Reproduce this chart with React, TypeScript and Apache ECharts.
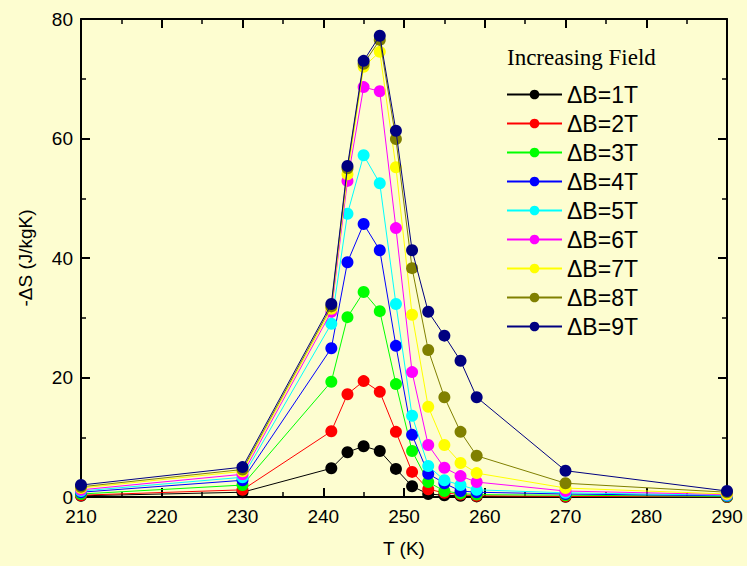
import React, { useEffect, useRef } from "react";
import * as echarts from "echarts";

const temps = [210, 230, 241, 243, 245, 247, 249, 251, 253, 255, 257, 259, 270, 290];
const fieldNames = ["ΔB=1T", "ΔB=2T", "ΔB=3T", "ΔB=4T", "ΔB=5T", "ΔB=6T", "ΔB=7T", "ΔB=8T", "ΔB=9T"];
const colors = ["#000000", "#ff0000", "#00ff00", "#0000ff", "#00ffff", "#ff00ff", "#ffff00", "#808000", "#000080"];
const b1 = [0.2, 0.8, 4.8, 7.5, 8.5, 7.7, 4.7, 1.8, 0.5, 0.3, 0.2, 0.1, 0.05, 0.0];
const b2 = [0.3, 1.2, 11.0, 17.2, 19.4, 17.6, 10.9, 4.2, 1.3, 0.7, 0.4, 0.2, 0.1, 0.05];
const b3 = [0.5, 2.0, 19.3, 30.1, 34.3, 31.1, 18.9, 7.7, 2.5, 1.0, 0.6, 0.4, 0.3, 0.1];
const b4 = [0.8, 2.8, 24.9, 39.3, 45.7, 41.3, 25.3, 10.4, 3.9, 2.3, 1.0, 0.8, 0.5, 0.2];
const b5 = [1.0, 3.3, 29.0, 47.4, 57.2, 52.5, 32.3, 13.6, 5.2, 2.8, 2.0, 1.2, 0.7, 0.3];
const b6 = [1.2, 3.8, 31.0, 52.9, 68.6, 67.9, 45.0, 20.9, 8.7, 4.9, 3.5, 2.5, 1.0, 0.4];
const b7 = [1.5, 4.3, 31.5, 54.0, 72.0, 74.5, 55.2, 30.5, 15.1, 8.7, 5.7, 4.0, 1.5, 0.5];
const b8 = [1.7, 4.6, 31.9, 55.0, 72.5, 76.5, 59.9, 38.3, 24.6, 16.7, 10.9, 6.9, 2.3, 0.8];
const b9 = [2.0, 5.0, 32.3, 55.4, 73.0, 77.2, 61.3, 41.3, 31.0, 27.0, 22.8, 16.7, 4.4, 1.0];
const allSeries = [b1, b2, b3, b4, b5, b6, b7, b8, b9];
const xTicks = [210, 220, 230, 240, 250, 260, 270, 280, 290];
const yTicks = [0, 20, 40, 60, 80];

export default function App() {
  const ref = useRef<HTMLDivElement>(null);
  useEffect(() => {
    if (!ref.current) return;
    const chart = echarts.init(ref.current, null, { renderer: "svg" });
    const font = "'Liberation Sans', Arial, sans-serif";
    const axisCommon = {
      type: "value" as const,
      axisLine: { show: true, onZero: false, lineStyle: { color: "#000", width: 2 } },
      axisTick: { show: true, inside: true, length: 9, lineStyle: { color: "#000", width: 2 } },
      minorTick: { show: true, splitNumber: 2, length: 5, lineStyle: { color: "#000", width: 1.5 } },
      splitLine: { show: false },
    };
    chart.setOption({
      animation: false,
      backgroundColor: "#fdfdd0",
      grid: { left: 81, right: 20, top: 19, bottom: 69 },
      xAxis: [
        {
          ...axisCommon,
          min: xTicks[0],
          max: xTicks[xTicks.length - 1],
          interval: 10,
          position: "bottom",
          name: "T (K)",
          nameLocation: "middle",
          nameGap: 42,
          nameTextStyle: { fontFamily: font, fontSize: 19, color: "#000" },
          axisLabel: { fontFamily: font, fontSize: 19, color: "#000", margin: 10 },
        },
        {
          ...axisCommon,
          min: xTicks[0],
          max: xTicks[xTicks.length - 1],
          interval: 10,
          position: "top",
          axisLabel: { show: false },
        },
      ],
      yAxis: [
        {
          ...axisCommon,
          min: yTicks[0],
          max: yTicks[yTicks.length - 1],
          interval: 20,
          position: "left",
          name: "-ΔS (J/kgK)",
          nameLocation: "middle",
          nameGap: 46,
          nameTextStyle: { fontFamily: font, fontSize: 19, color: "#000" },
          axisLabel: { fontFamily: font, fontSize: 19, color: "#000", margin: 8 },
        },
        {
          ...axisCommon,
          min: yTicks[0],
          max: yTicks[yTicks.length - 1],
          interval: 20,
          position: "right",
          axisLabel: { show: false },
        },
      ],
      legend: {
        orient: "vertical",
        left: 501,
        top: 78,
        itemWidth: 55,
        itemHeight: 12,
        itemGap: 6,
        textStyle: { fontFamily: font, fontSize: 23, color: "#000", lineHeight: 23 },
        data: fieldNames,
      },
      graphic: [
        {
          type: "text",
          left: 507,
          top: 46,
          style: {
            text: "Increasing Field",
            fontFamily: "'Liberation Serif', 'Times New Roman', serif",
            fontSize: 23,
            fill: "#000",
          },
        },
      ],
      series: allSeries.map((vals, i) => ({
        name: fieldNames[i],
        type: "line",
        xAxisIndex: 0,
        yAxisIndex: 0,
        data: temps.map((t, j) => [t, vals[j]]),
        symbol: "circle",
        symbolSize: 12,
        showSymbol: true,
        clip: false,
        lineStyle: { color: colors[i], width: 1 },
        itemStyle: { color: colors[i] },
        z: 2 + i,
      })),
    });
    return () => chart.dispose();
  }, []);
  return <div ref={ref} style={{ width: 747, height: 566, position: "fixed", left: 0, top: 0 }} />;
}
